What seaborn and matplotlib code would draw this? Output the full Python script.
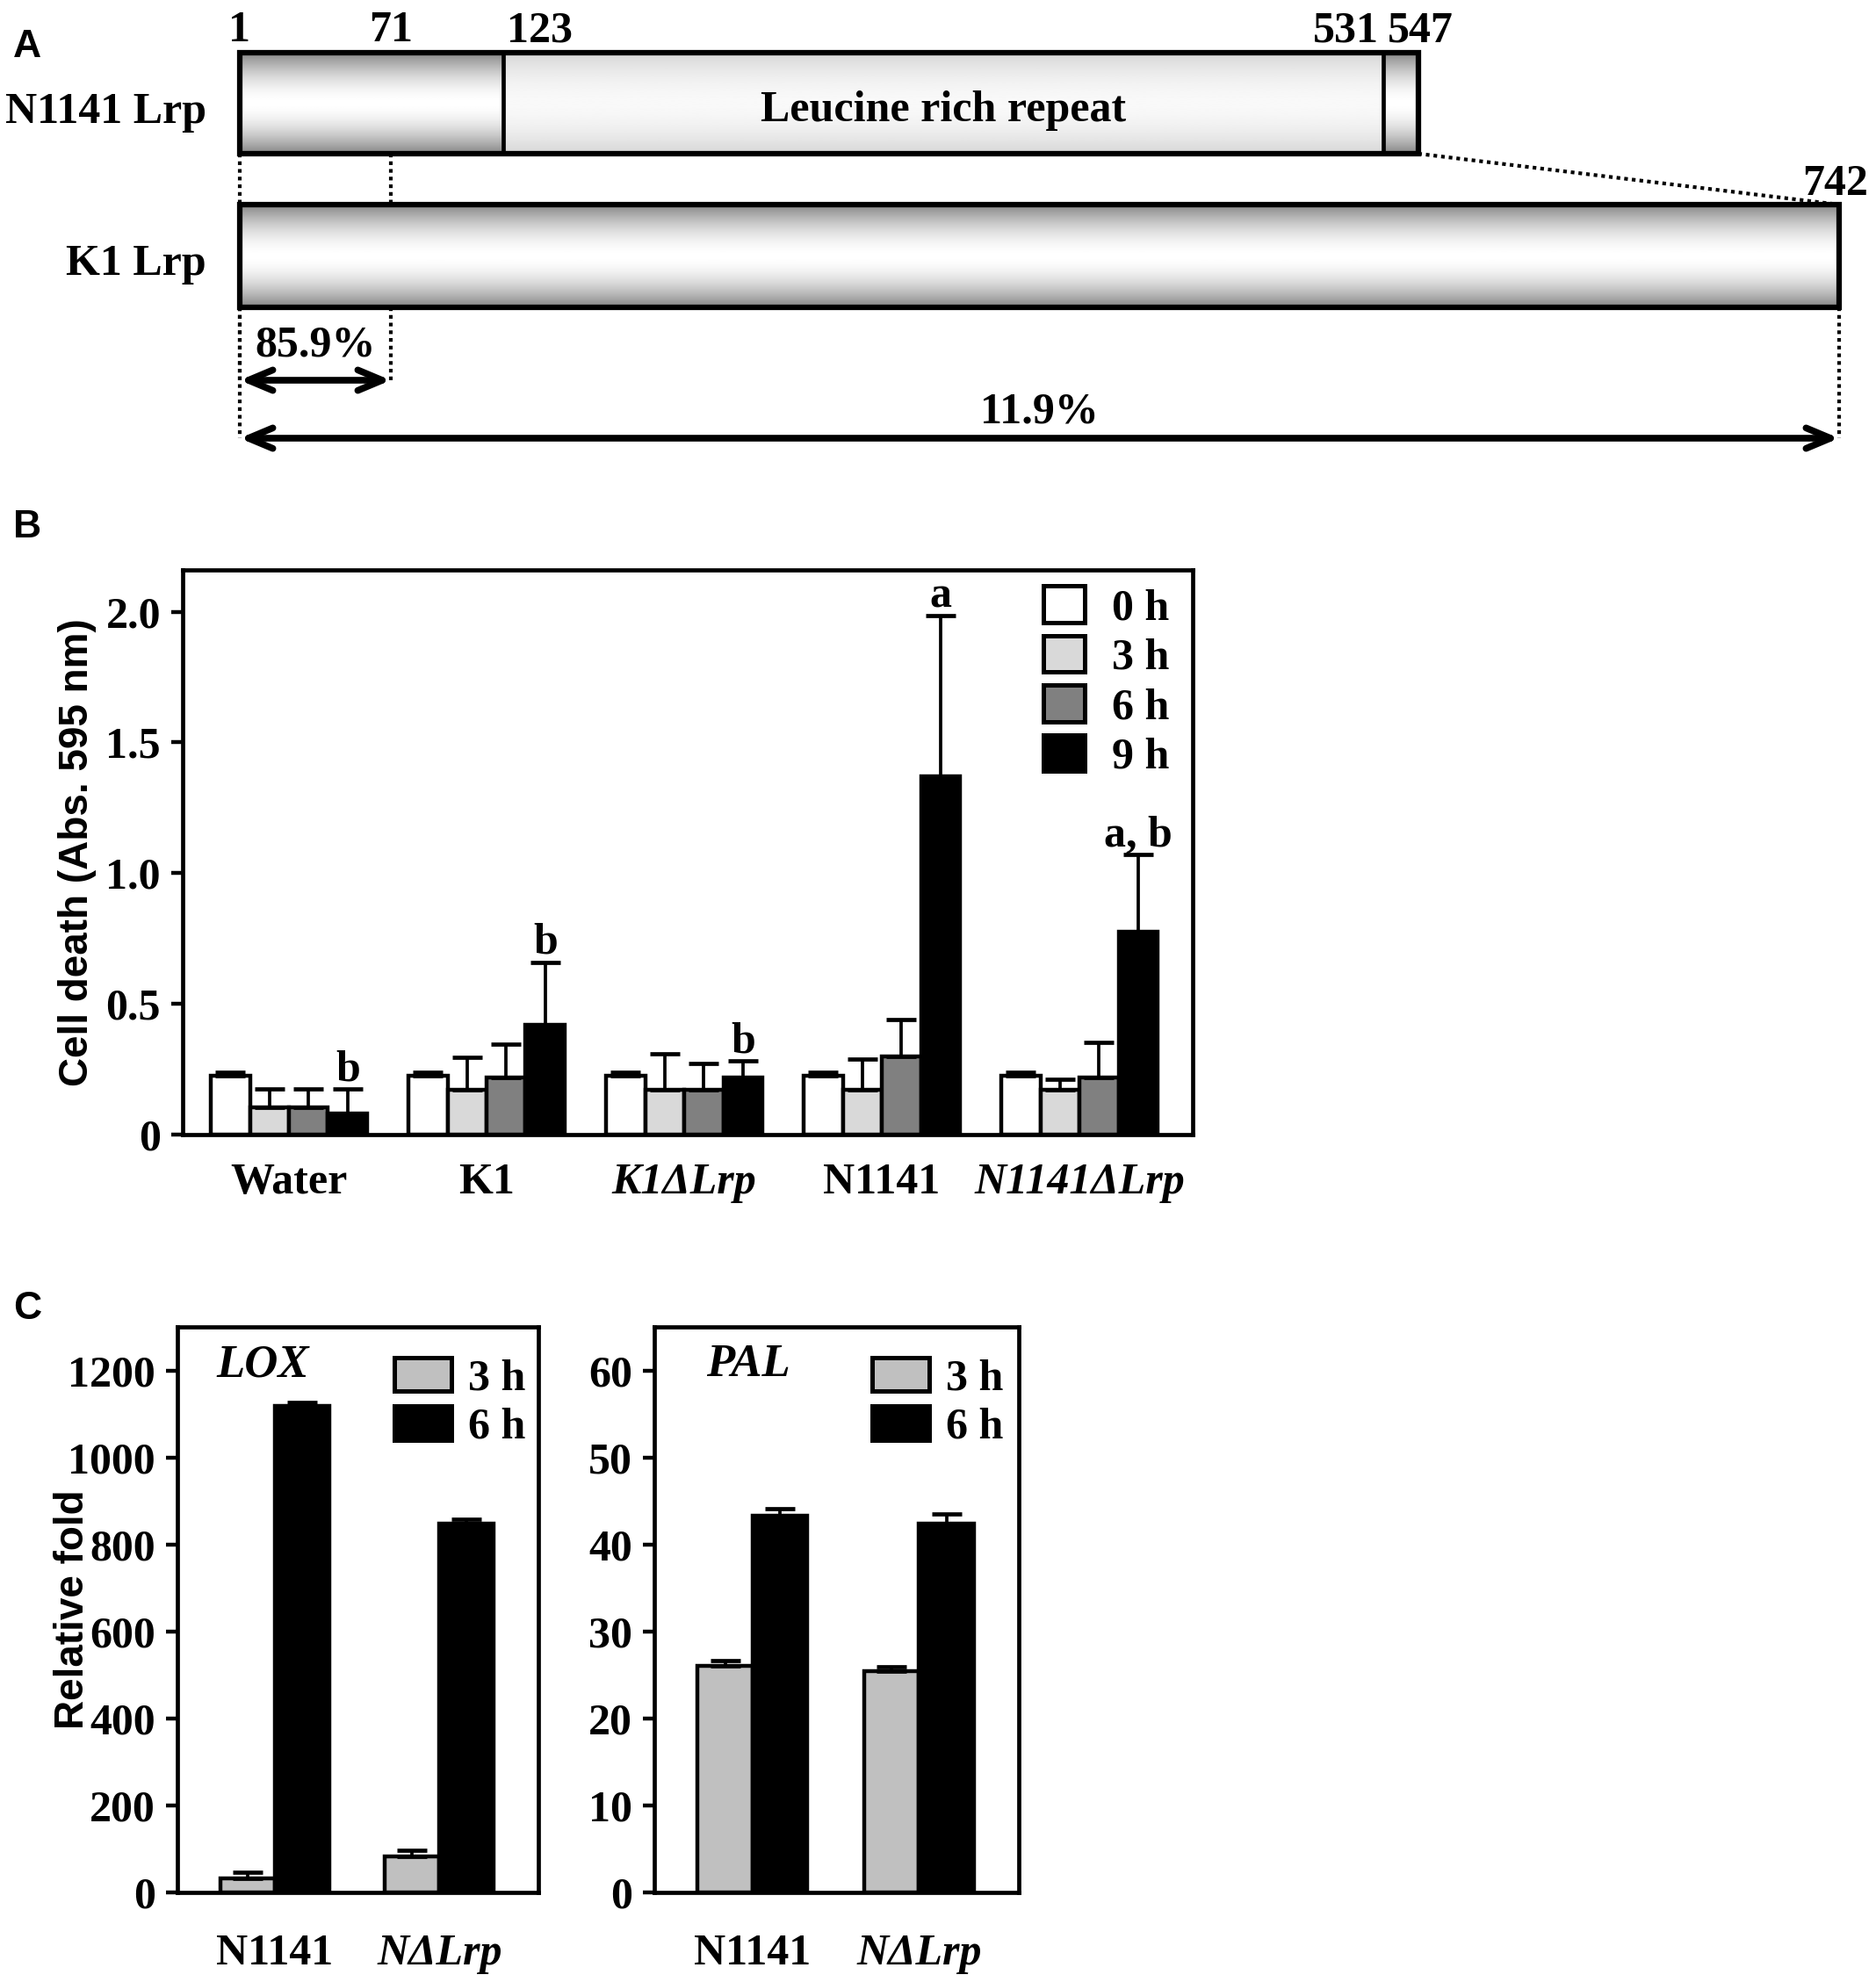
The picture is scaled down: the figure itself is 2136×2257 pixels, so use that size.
import numpy as np
import pandas as pd
import matplotlib
matplotlib.use("Agg")
import matplotlib.pyplot as plt
import seaborn as sns
from matplotlib.patches import Rectangle, Patch

# ---------------- data ----------------
# Panel A (residue numbers)
n1141_bounds = [1, 123, 531, 547]
k1_bounds = [1, 742]
n1141_marks = [1, 71, 123, 531, 547]
k1_end_mark = 742
identity_ranges = [(1, 71), (1, 742)]
identity_labels = ["85.9%", "11.9%"]
lrr_label = "Leucine rich repeat"

# Panel B
b_groups = ["Water", "K1", "K1ΔLrp", "N1141", "N1141ΔLrp"]
b_italic = [False, False, True, False, True]
b_times = ["0 h", "3 h", "6 h", "9 h"]
b_mean_0h = [0.225, 0.225, 0.225, 0.225, 0.225]
b_mean_3h = [0.105, 0.172, 0.172, 0.172, 0.172]
b_mean_6h = [0.105, 0.218, 0.172, 0.298, 0.218]
b_mean_9h = [0.080, 0.420, 0.218, 1.370, 0.775]
b_err_0h = [0.012, 0.012, 0.012, 0.012, 0.012]
b_err_3h = [0.070, 0.122, 0.138, 0.118, 0.040]
b_err_6h = [0.070, 0.127, 0.100, 0.142, 0.135]
b_err_9h = [0.095, 0.240, 0.065, 0.615, 0.295]
b_letters = ["b", "b", "b", "a", "a, b"]
b_yticks = [0, 0.5, 1.0, 1.5, 2.0]
b_yticklabels = ["0", "0.5", "1.0", "1.5", "2.0"]

# Panel C
c_groups = ["N1141", "NΔLrp"]
c_italic = [False, True]
c_times = ["3 h", "6 h"]
lox_mean_3h = [33, 83]
lox_mean_6h = [1118, 848]
lox_err_3h = [14, 13]
lox_err_6h = [9, 10]
pal_mean_3h = [26.0, 25.4]
pal_mean_6h = [43.3, 42.4]
pal_err_3h = [0.6, 0.5]
pal_err_6h = [0.8, 1.1]
lox_yticks = [0, 200, 400, 600, 800, 1000, 1200]
pal_yticks = [0, 10, 20, 30, 40, 50, 60]

# ---------------- style ----------------
FS = 36
sns.set_theme(style="white")
plt.rcParams.update({
    "font.family": ["Liberation Serif", "DejaVu Serif"],
    "font.weight": "bold",
    "axes.labelweight": "bold",
    "font.size": FS,
    "axes.edgecolor": "black",
    "axes.linewidth": 3.3,
    "xtick.color": "black",
    "ytick.color": "black",
    "text.color": "black",
    "axes.labelcolor": "black",
})
SANS = ["Liberation Sans", "DejaVu Sans"]

W, H = 2136, 2257
fig = plt.figure(figsize=(W / 100, H / 100), dpi=100)


def ax_rect(left, top, right, bottom):
    return [left / W, 1 - bottom / H, (right - left) / W, (bottom - top) / H]


# ---------------- Panel A ----------------
A_H = 560
axA = fig.add_axes([0, 1 - A_H / H, 1, A_H / H])
PX = (2094 - 273) / (742 - 1)  # pixels per residue
X0 = 273
xlimA = (1 - X0 / PX, 1 + (W - X0) / PX)

n_top, n_bot = 60, 175
k_top, k_bot = 233, 350


def grad_box(ax, x0, x1, y0, y1, lo, hi):
    t = np.linspace(0, 1, 200)
    v = hi - (hi - lo) * np.abs(2 * t - 1) ** 1.8
    ax.imshow(v[:, None], cmap="gray", vmin=0, vmax=1, extent=(x0, x1, y1, y0),
              aspect="auto", interpolation="bilinear", zorder=1)


segs = list(zip(n1141_bounds[:-1], n1141_bounds[1:]))
for i, (s0, s1) in enumerate(segs):
    if i == 1:
        grad_box(axA, s0, s1, n_top, n_bot, 0.84, 0.975)
    else:
        grad_box(axA, s0, s1, n_top, n_bot, 0.52, 1.0)
axA.add_patch(Rectangle((n1141_bounds[0], n_top), n1141_bounds[-1] - n1141_bounds[0],
                        n_bot - n_top, fill=False, edgecolor="black", lw=4.5, zorder=3))
for b in n1141_bounds[1:-1]:
    axA.plot([b, b], [n_top, n_bot], color="black", lw=3.4, zorder=3)

grad_box(axA, k1_bounds[0], k1_bounds[1], k_top, k_bot, 0.52, 1.0)
axA.add_patch(Rectangle((k1_bounds[0], k_top), k1_bounds[1] - k1_bounds[0],
                        k_bot - k_top, fill=False, edgecolor="black", lw=4.5, zorder=3))

dot = dict(color="black", lw=3, linestyle=(0, (1, 1.1)), zorder=2)
axA.plot([n1141_marks[0], n1141_marks[0]], [n_bot, k_top], **dot)
axA.plot([n1141_marks[1], n1141_marks[1]], [n_bot, k_top], **dot)
axA.plot([n1141_bounds[-1], k1_bounds[1]], [n_bot, k_top], **dot)

arrow_y = [433, 499]
text_y = [406, 481]
for (r0, r1), lab, ay, ty in zip(identity_ranges, identity_labels, arrow_y, text_y):
    axA.plot([r0, r0], [k_bot, ay], **dot)
    axA.plot([r1, r1], [k_bot, ay], **dot)
    axA.annotate("", xy=(r1, ay), xytext=(r0, ay),
                 arrowprops=dict(arrowstyle="<->,head_length=0.5,head_width=0.21",
                                 lw=5.5, color="black", shrinkA=0, shrinkB=0,
                                 mutation_scale=40), zorder=4)
    axA.text((r0 + r1) / 2, ty, lab, ha="center", va="baseline", fontsize=FS)

num_base = 47
align = {1: ("center", 0), 71: ("center", 0), 123: ("left", 3), 531: ("right", -4), 547: ("center", 2)}
for m in n1141_marks:
    ha, off = align[m]
    axA.annotate(str(m), xy=(m, num_base), xytext=(off, 0), textcoords="offset points",
                 ha=ha, va="baseline", fontsize=FS)
axA.annotate(str(k1_end_mark), xy=(k1_end_mark, 222), xytext=(24, 0),
             textcoords="offset points", ha="right", va="baseline", fontsize=FS)

axA.text((n1141_bounds[1] + n1141_bounds[2]) / 2, 138, lrr_label, ha="center",
         va="baseline", fontsize=FS, zorder=5)
lab_x = 1 + (235 - X0) / PX
axA.text(lab_x, 140, "N1141 Lrp", ha="right", va="baseline", fontsize=FS)
axA.text(lab_x, 313, "K1 Lrp", ha="right", va="baseline", fontsize=FS)

axA.set_xlim(*xlimA)
axA.set_ylim(A_H, 0)
axA.axis("off")


# ---------------- bar helper ----------------
def draw_bars(ax, groups, times, means, errs, colors, width):
    rows = []
    for t, m in zip(times, means):
        for g, v in zip(groups, m):
            rows.append((g, t, v))
    df = pd.DataFrame(rows, columns=["group", "time", "value"])
    sns.barplot(data=df, x="group", y="value", hue="time", order=groups,
                hue_order=times, palette=colors, width=width, gap=0,
                edgecolor="black", linewidth=3.2, errorbar=None, legend=False,
                saturation=1, ax=ax)
    conts = list(ax.containers)
    for cont, err in zip(conts, errs):
        xs = [b.get_x() + b.get_width() / 2 for b in cont]
        hs = [b.get_height() for b in cont]
        ax.errorbar(xs, hs, yerr=[np.zeros(len(err)), err], fmt="none",
                    ecolor="black", elinewidth=2.7, capsize=12, capthick=3.4, zorder=3)
    return conts


def style_axis(ax, xpad):
    for sp in ax.spines.values():
        sp.set_visible(True)
        sp.set_color("black")
        sp.set_linewidth(3.4)
    ax.tick_params(axis="y", direction="out", length=9.4, width=3.2, pad=8.6,
                   labelsize=FS, left=True)
    ax.tick_params(axis="x", length=0, pad=xpad, labelsize=FS)
    ax.set_xlabel("")


# ---------------- Panel B ----------------
axB = fig.add_axes(ax_rect(208, 649, 1358, 1292))
b_colors = ["#ffffff", "#d9d9d9", "#808080", "#000000"]
contsB = draw_bars(axB, b_groups, b_times,
                   [b_mean_0h, b_mean_3h, b_mean_6h, b_mean_9h],
                   [b_err_0h, b_err_3h, b_err_6h, b_err_9h], b_colors, 0.79)
for bar, e, lab in zip(contsB[-1], b_err_9h, b_letters):
    axB.annotate(lab, xy=(bar.get_x() + bar.get_width() / 2, bar.get_height() + e),
                 xytext=(0, 7), textcoords="offset points", ha="center",
                 va="baseline", fontsize=FS)
axB.set_xlim(-0.538, 4.573)
axB.set_ylim(0, 2.16)
axB.set_yticks(b_yticks)
axB.set_yticklabels(b_yticklabels)
axB.set_xticks(range(len(b_groups)))
axB.set_xticklabels(b_groups)
for tl, it in zip(axB.get_xticklabels(), b_italic):
    if it:
        tl.set_fontstyle("italic")
style_axis(axB, 23)
axB.set_ylabel("Cell death (Abs. 595 nm)", family=SANS, fontsize=33, fontweight="bold")
axB.yaxis.set_label_coords(-0.085, 0.5)
hB = [Patch(facecolor=c, edgecolor="black", linewidth=3.6, label=t)
      for c, t in zip(b_colors, b_times)]
axB.legend(handles=hB, loc="upper right", bbox_to_anchor=(0.977, 0.972), frameon=False,
           borderpad=0, borderaxespad=0, handlelength=0.95, handleheight=0.9,
           handletextpad=0.62, labelspacing=0.15, fontsize=FS)

# ---------------- Panel C ----------------
c_colors = ["#c0c0c0", "#000000"]
axL = fig.add_axes(ax_rect(202, 1511, 613, 2155))
axP = fig.add_axes(ax_rect(745, 1511, 1160, 2155))
specs = [
    (axL, [lox_mean_3h, lox_mean_6h], [lox_err_3h, lox_err_6h], (0, 1300), lox_yticks,
     "LOX", 0.109),
    (axP, [pal_mean_3h, pal_mean_6h], [pal_err_3h, pal_err_6h], (0, 65), pal_yticks,
     "PAL", 0.142),
]
for ax, means, errs, ylim, yt, gene, gx in specs:
    draw_bars(ax, c_groups, c_times, means, errs, c_colors, 0.66)
    ax.set_xlim(-0.59, 1.6)
    ax.set_ylim(*ylim)
    ax.set_yticks(yt)
    ax.set_yticklabels([str(v) for v in yt])
    ax.set_xticks(range(len(c_groups)))
    ax.set_xticklabels(c_groups)
    for tl, it in zip(ax.get_xticklabels(), c_italic):
        if it:
            tl.set_fontstyle("italic")
    style_axis(ax, 34)
    ax.set_ylabel("")
    ax.text(gx, 0.913, gene, transform=ax.transAxes, ha="left", va="baseline",
            fontsize=38, fontstyle="italic")
    hC = [Patch(facecolor=c, edgecolor="black", linewidth=3.6, label=t)
          for c, t in zip(c_colors, c_times)]
    anchor_x = 0.9635 if ax is axL else 0.957
    ax.legend(handles=hC, loc="upper right", bbox_to_anchor=(anchor_x, 0.946),
              frameon=False, borderpad=0, borderaxespad=0, handlelength=1.3,
              handleheight=0.8, handletextpad=0.38, labelspacing=0.16, fontsize=FS)
axL.set_ylabel("Relative fold", family=SANS, fontsize=33, fontweight="bold")
axL.yaxis.set_label_coords(-0.236, 0.5)

# ---------------- panel letters ----------------
for lab, base in zip(["A", "B", "C"], [65, 612, 1502]):
    fig.text(15 / W, 1 - base / H, lab, family=SANS, fontsize=32, fontweight="bold",
             ha="left", va="baseline")

fig.savefig("out.png", dpi=100)
